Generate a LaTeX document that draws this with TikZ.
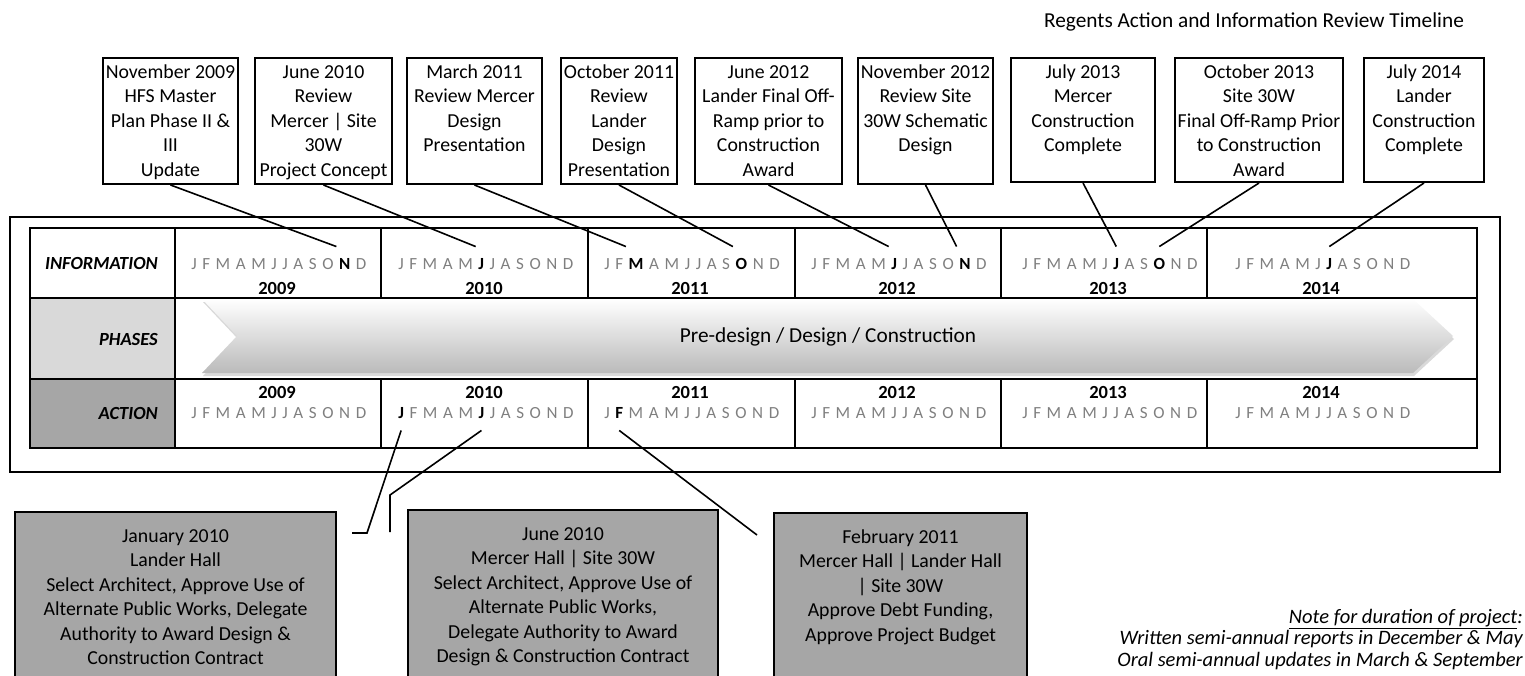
\documentclass[tikz,border=0pt]{standalone}
\usepackage{fontspec}
\setmainfont{Carlito}
\usetikzlibrary{positioning,shadows}
\definecolor{monthgray}{HTML}{7F7F7F}
\definecolor{phasegray}{HTML}{D9D9D9}
\definecolor{actgray}{HTML}{A6A6A6}
\newif\ifmonbold
\tikzset{
  infobox/.style={
    draw, line width=2pt, fill=white,
    inner xsep=0pt, inner ysep=3pt, anchor=north,
    font=\fontsize{19.8}{24.5}\selectfont
  },
  actbox/.style={
    draw, line width=2pt, fill=actgray,
    inner xsep=0pt, inner ysep=13pt, anchor=north west,
    font=\fontsize{19.8}{24.5}\selectfont
  },
  mon/.style={
    inner xsep=2.6pt, inner ysep=11pt,
    text height=11.5pt, text depth=1pt,
    text=monthgray, font=\fontsize{17}{19}\selectfont
  },
  monbold/.style={mon, text=black, font=\fontsize{17}{19}\selectfont\bfseries},
  monsel/.code={\ifmonbold\pgfkeysalso{/tikz/monbold}\else\pgfkeysalso{/tikz/mon}\fi},
  yr/.style={inner sep=0pt, font=\fontsize{18.5}{21}\selectfont\bfseries},
  rowlbl/.style={inner sep=0pt, anchor=east, font=\fontsize{18.5}{22}\selectfont\bfseries\itshape},
  grid/.style={line width=2pt},
  link/.style={line width=1.6pt}
}
% one row of month letters, #5 = months set in bold
\newcommand{\monthrow}[5]{%
  \foreach \mlet [count=\mi] in {J,F,M,A,M,J,J,A,S,O,N,D}{
    \global\monboldfalse
    \foreach \hm in {#5}{\ifnum\hm=\mi\relax\global\monboldtrue\fi}
    \ifnum\mi=1\relax
      \node[monsel, anchor=west] (#1#2-\mi) at (#3-88.5,#4) {\mlet};
    \else
      \pgfmathtruncatemacro{\prevm}{\mi-1}
      \node[monsel, right=0pt of #1#2-\prevm] (#1#2-\mi) {\mlet};
    \fi
  }%
}

\begin{document}
\begin{tikzpicture}[x=1pt,y=-1pt]
  \useasboundingbox (0,0) rectangle (1525,675);
  \clip (0,0) rectangle (1525,675);

  \node[font=\fontsize{21.3}{25}\selectfont] (title) at (1254,22) {Regents Action and Information Review Timeline};

  % frame and table
  \draw[grid] (10,217) rectangle (1500,472);
  \fill[phasegray] (30,298) rectangle (175,379);
  \fill[actgray] (30,379) rectangle (175,448);
  \draw[grid] (30,228) rectangle (1477,448);
  \draw[grid] (30,298) -- (1477,298) (30,379) -- (1477,379) (175,228) -- (175,448);
  \foreach \x in {381,588,795,1001,1207}
    \draw[grid] (\x,228) -- (\x,298) (\x,379) -- (\x,448);

  \node[rowlbl] (infolbl) at (158,263) {INFORMATION};
  \node[rowlbl] (phaselbl) at (158,339) {PHASES};
  \node[rowlbl] (actlbl) at (158,413) {ACTION};

  % phases arrow
  \path[top color=white, bottom color=black!27,
        drop shadow={shadow xshift=1pt, shadow yshift=-3pt, opacity=0.3}]
    (202,299) -- (1413,299) -- (1453,336) -- (1413,373) -- (202,373) -- (237,336) -- cycle;
  \node[font=\fontsize{21.3}{25}\selectfont] (phasetxt) at (828,337) {Pre-design / Design / Construction};

  % months and years
  \monthrow{i}{2009}{277}{264}{11}
  \monthrow{i}{2010}{484}{264}{6}
  \monthrow{i}{2011}{690}{264}{3,10}
  \monthrow{i}{2012}{897}{264}{6,11}
  \monthrow{i}{2013}{1108}{264}{7,10}
  \monthrow{i}{2014}{1321}{264}{7}
  \monthrow{a}{2009}{277}{413}{0}
  \monthrow{a}{2010}{484}{413}{1,6}
  \monthrow{a}{2011}{690}{413}{2}
  \monthrow{a}{2012}{897}{413}{0}
  \monthrow{a}{2013}{1108}{413}{0}
  \monthrow{a}{2014}{1321}{413}{0}
  \foreach \yy/\x in {2009/277,2010/484,2011/690,2012/897,2013/1108,2014/1321}{
    \node[yr] (iy\yy) at (\x,288) {\yy};
    \node[yr] (ay\yy) at (\x,392) {\yy};
  }

  % information reviews
  \node[infobox] (nov09) at (170.5,57) {\parbox[t][120pt][t]{135pt}{\centering\strut November 2009\\HFS Master\\Plan Phase II \&\\III\\Update}};
  \node[infobox] (jun10) at (323.5,57) {\parbox[t][120pt][t]{137pt}{\centering\strut June 2010\\Review\\Mercer | Site\\30W\\Project Concept}};
  \node[infobox] (mar11) at (474.5,57) {\parbox[t][120pt][t]{135pt}{\centering\strut March 2011\\Review Mercer\\Design\\Presentation}};
  \node[infobox] (oct11) at (619,57) {\parbox[t][120pt][t]{116pt}{\centering\strut October 2011\\Review\\Lander\\Design\\Presentation}};
  \node[infobox] (jun12) at (768.5,57) {\parbox[t][120pt][t]{147pt}{\centering\strut June 2012\\Lander Final Off-\\Ramp prior to\\Construction\\Award}};
  \node[infobox] (nov12) at (925.5,57) {\parbox[t][120pt][t]{135pt}{\centering\strut November 2012\\Review Site\\30W Schematic\\Design}};
  \node[infobox] (jul13) at (1083,57) {\parbox[t][118pt][t]{144pt}{\centering\strut July 2013\\Mercer\\Construction\\Complete}};
  \node[infobox] (oct13) at (1259,57) {\parbox[t][118pt][t]{168pt}{\centering\strut October 2013\\Site 30W\\Final Off-Ramp Prior\\to Construction\\Award}};
  \node[infobox] (jul14) at (1424,57) {\parbox[t][118pt][t]{120pt}{\centering\strut July 2014\\Lander\\Construction\\Complete}};

  \draw[link] (nov09.south) -- (i2009-11.north west);
  \draw[link] (jun10.south) -- (i2010-6.north west);
  \draw[link] (mar11.south) -- (i2011-3.north west);
  \draw[link] (oct11.south) -- (i2011-10.north west);
  \draw[link] (jun12.south) -- (i2012-6.north west);
  \draw[link] (nov12.south) -- (i2012-11.north west);
  \draw[link] (jul13.south) -- (i2013-7.north);
  \draw[link] (oct13.south) -- (i2013-10.north);
  \draw[link] (jul14.south) -- (i2014-7.north);

  % actions
  \node[actbox] (jan10act) at (14,511) {\parbox[t][153pt][t]{321pt}{\centering\strut January 2010\\Lander Hall\\Select Architect, Approve Use of\\Alternate Public Works, Delegate\\Authority to Award Design \&\\Construction Contract}};
  \node[actbox] (jun10act) at (407,509) {\parbox[t][155pt][t]{310pt}{\centering\strut June 2010\\Mercer Hall | Site 30W\\Select Architect, Approve Use of\\Alternate Public Works,\\Delegate Authority to Award\\Design \& Construction Contract}};
  \node[actbox] (feb11act) at (773,512) {\parbox[t][152pt][t]{253pt}{\centering\strut February 2011\\Mercer Hall | Lander Hall\\| Site 30W\\Approve Debt Funding,\\Approve Project Budget}};

  \coordinate (jan10end) at (352,533);
  \coordinate (jun10end) at (390,532);
  \coordinate (feb11end) at (757,535);
  \draw[link] (jan10end) -- ++(15,0) -- (a2010-1.south);
  \draw[link] (jun10end) -- ++(0,-37) -- (a2010-6.south);
  \draw[link] (a2011-2.south) -- (feb11end);

  \node[anchor=north east, align=right, inner sep=0pt,
        font=\fontsize{20.5}{21.5}\selectfont\itshape] (note) at (1523,609)
    {\underline{Note for duration of project}:\\Written semi-annual reports in December \& May\\Oral semi-annual updates in March \& September};
\end{tikzpicture}
\end{document}
